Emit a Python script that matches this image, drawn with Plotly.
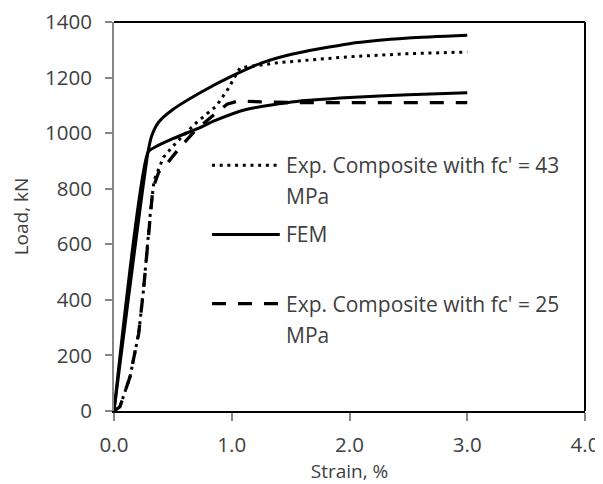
import plotly.graph_objects as go

# Data (strain %, load kN)
fem43_strain = [0, 0.29, 0.32, 0.38, 0.50, 0.75, 1.00, 1.25, 1.50, 2.00, 2.50, 3.00]
fem43_load = [0, 935, 990, 1040, 1085, 1150, 1205, 1252, 1283, 1322, 1342, 1352]

fem25_strain = [0, 0.29, 0.35, 0.50, 0.73, 0.85, 1.13, 1.55, 2.00, 2.50, 3.00]
fem25_load = [0, 932, 950, 980, 1020, 1044, 1086, 1114, 1128, 1138, 1145]

exp43_strain = [0, 0.05, 0.136, 0.21, 0.25, 0.28, 0.31, 0.34, 0.42, 0.53, 0.70, 0.87, 0.97, 1.07, 1.40, 2.00, 2.50, 3.00]
exp43_load = [0, 15, 123, 280, 434, 578, 720, 830, 913, 967, 1038, 1098, 1160, 1235, 1254, 1275, 1286, 1292]

exp25_strain = [0, 0.05, 0.136, 0.21, 0.25, 0.28, 0.31, 0.33, 0.38, 0.45, 0.56, 0.69, 0.87, 0.96, 1.05, 1.50, 2.00, 3.00]
exp25_load = [0, 15, 123, 280, 434, 578, 720, 800, 860, 890, 949, 1009, 1074, 1104, 1115, 1110, 1110, 1110]

legend_labels = [["Exp. Composite with fc' = 43", "MPa"], ["FEM"], ["Exp. Composite with fc' = 25", "MPa"]]

x_ticks = [0, 1, 2, 3, 4]
x_tick_text = ["0.0", "1.0", "2.0", "3.0", "4.0"]
y_ticks = [0, 200, 400, 600, 800, 1000, 1200, 1400]

FONT = "Open Sans"
TXT = "#404040"
GRAY = "#868686"

DOT = "3px,4.7px"
DASH = "14px,12px"

fig = go.Figure()
fig.add_trace(go.Scatter(x=exp43_strain, y=exp43_load, mode="lines", name="Exp. Composite with fc' = 43 MPa",
                         line=dict(color="black", width=3, dash=DOT), showlegend=False))
fig.add_trace(go.Scatter(x=exp25_strain, y=exp25_load, mode="lines", name="Exp. Composite with fc' = 25 MPa",
                         line=dict(color="black", width=3.3, dash=DASH), showlegend=False))
fig.add_trace(go.Scatter(x=fem43_strain, y=fem43_load, mode="lines", name="FEM", line_shape="spline",
                         line=dict(color="black", width=3, smoothing=0.6), showlegend=False))
fig.add_trace(go.Scatter(x=fem25_strain, y=fem25_load, mode="lines", name="FEM", line_shape="spline",
                         line=dict(color="black", width=3, smoothing=0.6), showlegend=False))

# Manual legend (paper coordinates)
shapes = []
annotations = []
legend_items = [
    (0.632, dict(color="black", width=3, dash=DOT)),
    (0.454, dict(color="black", width=3, dash="solid")),
    (0.276, dict(color="black", width=3.3, dash=DASH)),
]
for (yp, ln), labels in zip(legend_items, legend_labels):
    shapes.append(dict(type="line", xref="paper", yref="paper", x0=0.208, x1=0.352, y0=yp, y1=yp, line=ln))
    for i, t in enumerate(labels):
        annotations.append(dict(xref="paper", yref="paper", x=0.361, y=yp - i * 0.080, text=t, showarrow=False,
                                xanchor="left", yanchor="middle", font=dict(family=FONT, size=21, color=TXT)))

# plot area frame: top and right
shapes.append(dict(type="line", xref="paper", yref="paper", x0=0, x1=1, y0=1, y1=1, line=dict(color="black", width=2)))
shapes.append(dict(type="line", xref="paper", yref="paper", x0=1, x1=1, y0=0, y1=1, line=dict(color="black", width=2)))

# the page body has an 8px margin, so the figure is sized/offset to compensate
fig.update_layout(
    width=595, height=476,
    margin=dict(l=106, r=18, t=14, b=73),
    paper_bgcolor="white", plot_bgcolor="white",
    font=dict(family=FONT, color=TXT, size=20),
    shapes=shapes, annotations=annotations,
    xaxis=dict(range=[0, 4], tickvals=x_ticks, ticktext=x_tick_text, showgrid=False, zeroline=False,
               showline=True, linecolor="black", linewidth=2, ticks="outside", ticklen=8, tickcolor=GRAY,
               tickwidth=1.5, tickfont=dict(size=20.5, color=TXT), automargin=False, ticklabelstandoff=6,
               ticklabeloverflow="allow",
               title=dict(text="Strain, %", font=dict(size=19, color=TXT), standoff=10)),
    yaxis=dict(range=[0, 1400], tickvals=y_ticks, showgrid=False, zeroline=False,
               showline=True, linecolor=GRAY, linewidth=2, ticks="outside", ticklen=7, tickcolor=GRAY,
               tickwidth=1.5, tickfont=dict(size=20.5, color=TXT), automargin=False, ticklabelstandoff=9,
               ticklabeloverflow="allow",
               title=dict(text="Load, kN", font=dict(size=19, color=TXT), standoff=13)),
)

fig.write_html("out.html")
